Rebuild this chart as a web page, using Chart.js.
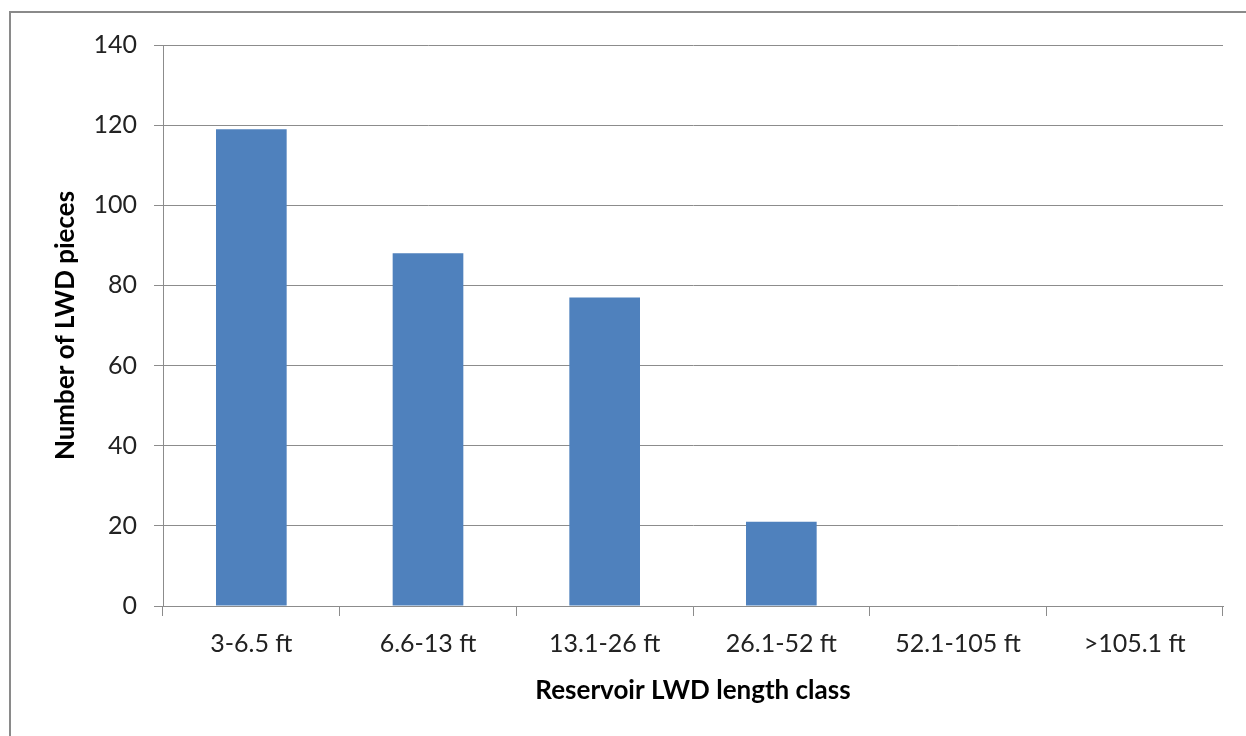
<!DOCTYPE html>
<html>
<head>
<meta charset="utf-8">
<script src="https://cdn.jsdelivr.net/npm/chart.js@4.4.1/dist/chart.umd.min.js"></script>
<style>
  html, body { margin: 0; padding: 0; background: #fff; overflow: hidden; }
  #wrap { position: relative; width: 1246px; height: 736px; }
  #frame { position: absolute; left: 9px; top: 11px; width: 1400px; height: 900px;
           border-left: 2px solid #8a8a8a; border-top: 2px solid #8a8a8a; box-sizing: border-box; }
  canvas { position: absolute; left: 0; top: 0; }
</style>
</head>
<body>
<div id="wrap">
  <div id="frame"></div>
  <canvas id="c" width="1246" height="736"></canvas>
</div>
<script>
// Length classes and counts of large woody debris pieces
const lengthClasses = ['3-6.5 ft', '6.6-13 ft', '13.1-26 ft', '26.1-52 ft', '52.1-105 ft', '>105.1 ft'];
const pieceCounts = [119, 88, 77, 21, 0, 0];
const yTicks = [0, 20, 40, 60, 80, 100, 120, 140];

const FONT = 'Lato, "Open Sans", sans-serif';
const gridColor = '#8c8c8c';

new Chart(document.getElementById('c'), {
  type: 'bar',
  data: {
    labels: lengthClasses,
    datasets: [{
      data: pieceCounts,
      backgroundColor: '#4f81bd',
      borderWidth: 0,
      categoryPercentage: 1,
      barPercentage: 0.4
    }]
  },
  options: {
    responsive: false,
    animation: false,
    devicePixelRatio: 1,
    layout: { padding: { left: 0, top: 45, right: 23, bottom: 0 } },
    plugins: { legend: { display: false }, tooltip: { enabled: false } },
    scales: {
      x: {
        afterFit: s => { s.height = 130; },
        grid: { drawOnChartArea: false, drawTicks: true, tickLength: 10, color: gridColor, offset: true },
        border: { color: gridColor, width: 1 },
        ticks: { color: '#222', font: { family: FONT, size: 25 }, padding: 13, maxRotation: 0 },
        title: { display: true, text: 'Reservoir LWD length class', color: '#000',
                 font: { family: FONT, size: 26, weight: 'bold' }, padding: { top: 0, bottom: 30 } }
      },
      y: {
        min: 0, max: 140,
        afterFit: s => { s.width = 163; },
        afterBuildTicks: s => { s.ticks = yTicks.map(v => ({ value: v })); },
        grid: { color: gridColor, tickLength: 9, drawTicks: true },
        border: { color: gridColor, width: 1 },
        ticks: { color: '#222', font: { family: FONT, size: 25 }, padding: 17 },
        title: { display: true, text: 'Number of LWD pieces', color: '#000',
                 font: { family: FONT, size: 26, weight: 'bold' }, padding: { top: 50, bottom: 0 } }
      }
    }
  }
});
</script>
</body>
</html>
